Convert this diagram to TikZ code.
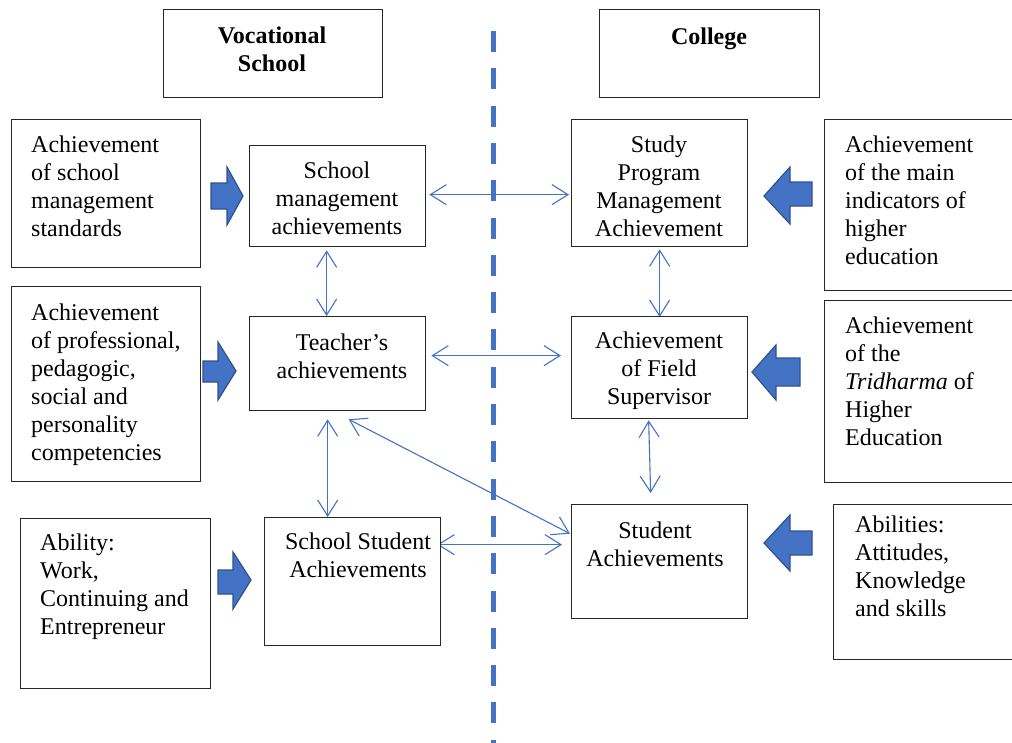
\documentclass[tikz,border=0pt]{standalone}
\usepackage{fontspec}
\setmainfont{Liberation Serif}
\usetikzlibrary{arrows.meta,calc}
\pgfdeclarelayer{paper}
\pgfdeclarelayer{bg}
\pgfsetlayers{paper,bg,main}
\definecolor{lnk}{HTML}{4472C4}
\definecolor{arrfill}{HTML}{4472C4}
\definecolor{arredge}{HTML}{2F528F}
\begin{document}
\begin{tikzpicture}[x=1pt,y=-1pt,
  box/.style={draw=black!85, line width=1.3pt, fill=white, inner sep=0pt, anchor=north west},
  txt/.style={font=\fontsize{24}{28}\selectfont, inner sep=0pt, align=left, anchor=north west},
  ctxt/.style={font=\fontsize{24}{28}\selectfont, inner sep=0pt, align=center, anchor=north},
  htxt/.style={font=\fontsize{24}{28}\selectfont\bfseries, inner sep=0pt, align=center, anchor=north},
  conn/.style={draw=lnk, line width=1.1pt, {Straight Barb[length=16pt,width=20pt]}-{Straight Barb[length=16pt,width=20pt]}},
  blk/.style={fill=arrfill, draw=arredge, line width=1.2pt, line join=miter},
  divider/.style={draw=lnk, line width=5pt, dash pattern=on 21pt off 16.3pt}
]
\clip (0,0) rectangle (1012,742);
\begin{pgfonlayer}{paper}
\fill[white] (0,0) rectangle (1012,742);
\end{pgfonlayer}

% header boxes
\node[box, minimum width=219pt, minimum height=88pt] (voc) at (163,9) {};
\node[box, minimum width=220pt, minimum height=88pt] (col) at (599,9) {};
\node[htxt] (voct) at (272,26.5) {Vocational\\School};
\node[htxt] (colt) at (709,27.5) {College};

% left column
\node[box, minimum width=189pt, minimum height=148pt] (l1) at (11,119) {};
\node[box, minimum width=189pt, minimum height=195pt] (l2) at (11,286) {};
\node[box, minimum width=190pt, minimum height=170pt] (l3) at (20,518) {};
\node[txt] (l1t) at (31,135.5) {Achievement\\of school\\management\\standards};
\node[txt] (l2t) at (31,303.5) {Achievement\\of professional,\\pedagogic,\\social and\\personality\\competencies};
\node[txt] (l3t) at (40,533.5) {Ability:\\Work,\\Continuing and\\Entrepreneur};

% school column
\node[box, minimum width=176pt, minimum height=101pt] (sma) at (249,145) {};
\node[box, minimum width=176pt, minimum height=94pt] (ta) at (249,316) {};
\node[box, minimum width=176pt, minimum height=128pt] (ssa) at (264,517) {};
\node[ctxt] (smat) at (337,161.5) {School\\management\\achievements};
\node[ctxt] (tat) at (342,333.5) {Teacher's\\achievements};
\node[ctxt] (ssat) at (358,532.5) {School Student\\Achievements};

% college column
\node[box, minimum width=176pt, minimum height=127pt] (spma) at (571,119) {};
\node[box, minimum width=176pt, minimum height=102pt] (afs) at (571,316) {};
\node[box, minimum width=176pt, minimum height=114pt] (sa) at (571,504) {};
\node[ctxt] (spmat) at (659,135.5) {Study\\Program\\Management\\Achievement};
\node[ctxt] (afst) at (659,331.5) {Achievement\\of Field\\Supervisor};
\node[ctxt] (sat) at (655,521.5) {Student\\Achievements};

% right column
\node[box, minimum width=200pt, minimum height=171pt] (r1) at (824,119) {};
\node[box, minimum width=200pt, minimum height=182pt] (r2) at (824,300) {};
\node[box, minimum width=190pt, minimum height=155pt] (r3) at (833,504) {};
\node[txt] (r1t) at (845,135.5) {Achievement\\of the main\\indicators of\\higher\\education};
\node[txt] (r2t) at (845,316.5) {Achievement\\of the\\\textit{Tridharma} of\\Higher\\Education};
\node[txt] (r3t) at (855,515.5) {Abilities:\\Attitudes,\\Knowledge\\and skills};

% connectors
\begin{pgfonlayer}{bg}
\draw[conn] ([xshift=3pt,yshift=1.5pt]sma.east) -- ([xshift=-2pt,yshift=-11.5pt]spma.west);
\draw[conn] ([xshift=-11pt,yshift=-3pt]sma.south) -- ([xshift=-11pt]ta.north);
\draw[conn] ([yshift=-2pt]spma.south) -- ([yshift=-1pt]afs.north);
\draw[conn] ([xshift=5pt,yshift=8pt]ta.east) -- ([xshift=-10pt,yshift=12pt]afs.west);
\draw[conn] ([xshift=-11pt,yshift=-1pt]afs.south) -- ([xshift=-9pt,yshift=11pt]sa.north);
\draw[conn] ([xshift=-10pt,yshift=-8pt]ta.south) -- ([xshift=-25pt]ssa.north);
\draw[conn] ([xshift=11pt,yshift=-8pt]ta.south) -- ([xshift=-1pt,yshift=28pt]sa.west);
\draw[conn] ([xshift=-4pt,yshift=37pt]ssa.east) -- ([xshift=-9pt,yshift=17pt]sa.west);
\end{pgfonlayer}

% divider
\draw[divider] (493,31) -- (493,745);

% block arrows
\draw[blk] (211,183) -- (227,183) -- (227,167) -- (243,196) -- (227,225) -- (227,209) -- (211,209) -- cycle;
\draw[blk] (203,361) -- (218,361) -- (218,342) -- (236,371) -- (218,400) -- (218,382) -- (203,382) -- cycle;
\draw[blk] (218,570) -- (233,570) -- (233,552) -- (251,580) -- (233,609) -- (233,594) -- (218,594) -- cycle;
\draw[blk] (812,182) -- (790,182) -- (790,167) -- (764,196) -- (790,224) -- (790,206) -- (812,206) -- cycle;
\draw[blk] (800,358) -- (776,358) -- (776,345) -- (752,372) -- (776,400) -- (776,386) -- (800,386) -- cycle;
\draw[blk] (812,531) -- (790,531) -- (790,515) -- (764,543) -- (790,571) -- (790,555) -- (812,555) -- cycle;
\end{tikzpicture}
\end{document}
